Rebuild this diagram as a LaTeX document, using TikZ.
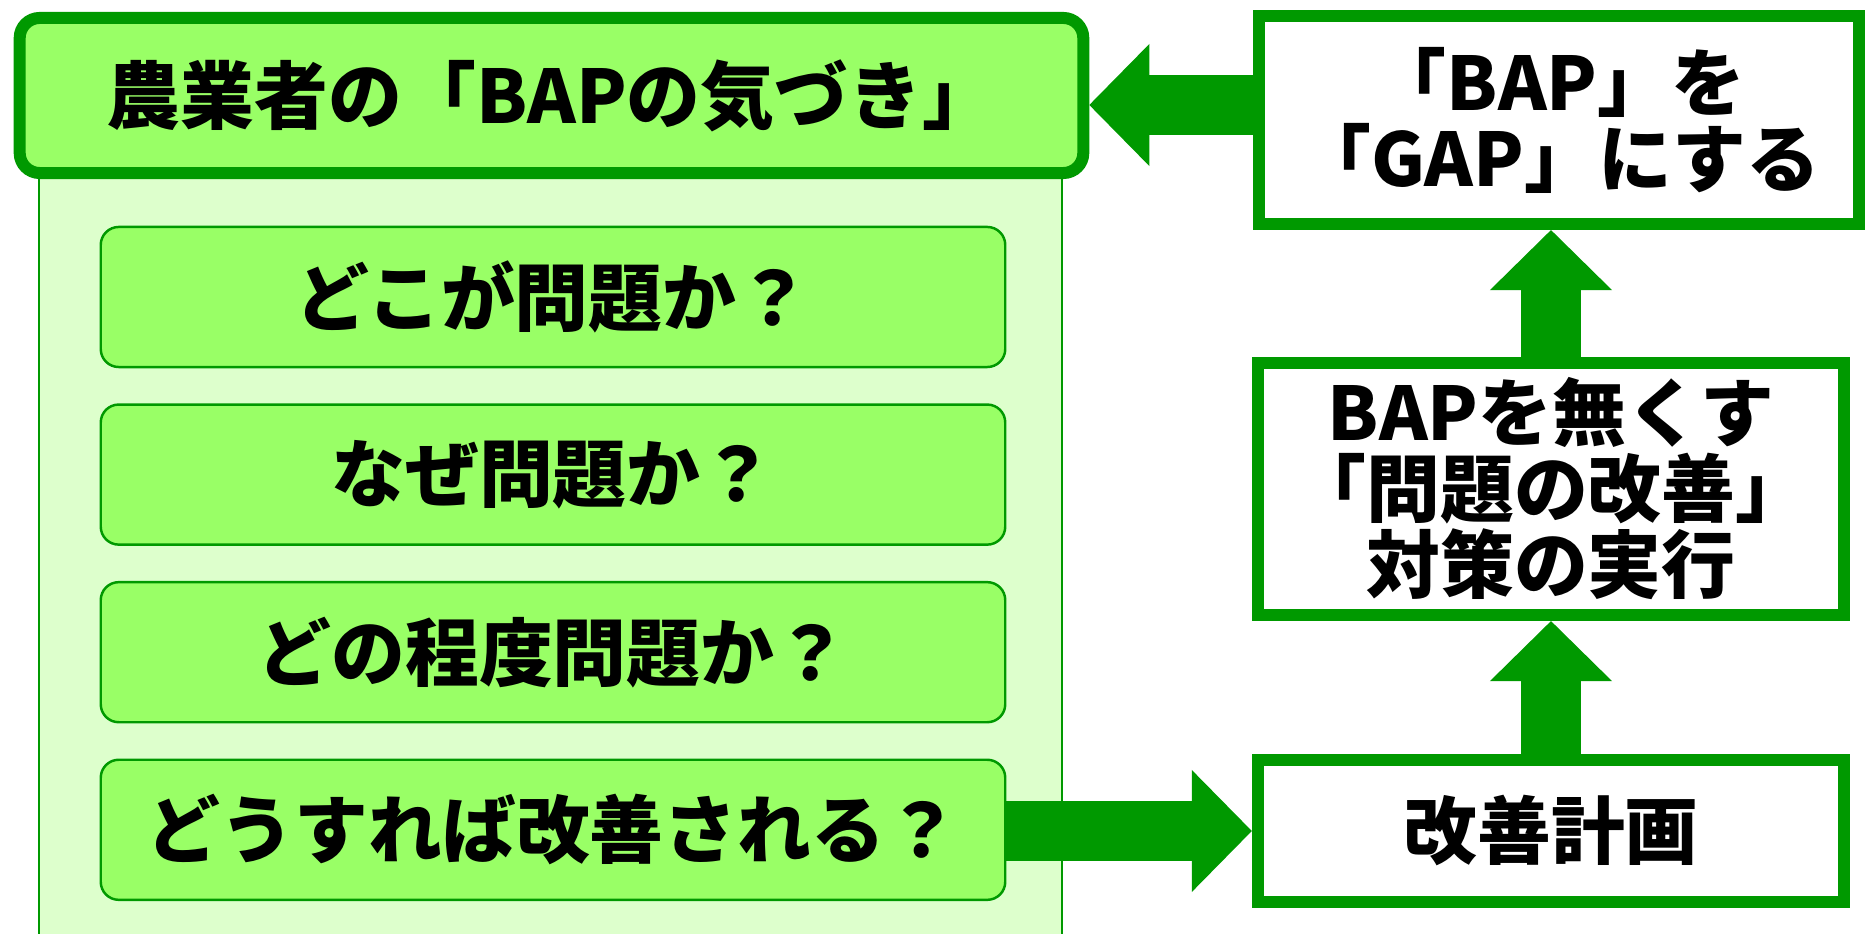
\documentclass[tikz,border=0pt]{standalone}
\usepackage{fontspec}
\newfontfamily\jp{Noto Sans CJK JP}
\usetikzlibrary{arrows.meta}

\definecolor{leafgreen}{HTML}{009900}
\definecolor{lightleaf}{HTML}{99FF66}
\definecolor{paleleaf}{HTML}{DDFFCC}

\tikzset{
    label text/.style={font=\jp\bfseries\fontsize{21}{21.6}\selectfont, inner sep=0pt, align=center},
    titlebox/.style={label text, draw=leafgreen, fill=lightleaf, line width=0.12cm, rounded corners=0.2cm},
    question/.style={label text, draw=leafgreen, fill=lightleaf, line width=0.7pt, rounded corners=0.18cm,
                     minimum width=9.04cm, minimum height=1.40cm},
    stepbox/.style={label text, draw=leafgreen, fill=white, line width=0.12cm},
    bigarrow/.style={draw=leafgreen, line width=0.6cm,
                     -{Triangle[length=0.6cm, width=1.22cm, line width=0pt]}}
}

\begin{document}
\begin{tikzpicture}[x=0.01cm, y=-0.01cm, node distance=1.775cm]
    \path [use as bounding box, clip] (0,0) rectangle (1871,934);

    % Panel behind the questions
    \fill [paleleaf] (39,150) rectangle (1062,940);
    \draw [leafgreen, line width=0.5pt] (39,150) -- (39,940) (1062,150) -- (1062,940);

    % Nodes {title, q1, q2, q3, q4, gap, act, plan}
    \node [titlebox, minimum width=10.63cm, minimum height=1.55cm]
                            (title) at (551.5,95.5) {農業者の「BAPの気づき」};
    \node [question]        (q1)    at (553,297)    {どこが問題か？};
    \node [question]        (q2)    [below of=q1]   {なぜ問題か？};
    \node [question]        (q3)    [below of=q2]   {どの程度問題か？};
    \node [question]        (q4)    [below of=q3]   {どうすれば改善される？};
    \node [stepbox, minimum width=6.00cm, minimum height=2.08cm]
                            (gap)   at (1559,120)   {「BAP」を\\「GAP」にする};
    \node [stepbox, minimum width=5.86cm, minimum height=2.52cm]
                            (act)   at (1551,489)   {BAPを無くす\\「問題の改善」\\対策の実行};
    \node [stepbox, minimum width=5.86cm, minimum height=1.42cm]
                            (plan)  at (1551,831)   {改善計画};

    % Paths
    \path [bigarrow]    (q4.east |- plan.west)  --  (plan.west);
    \path [bigarrow]    (plan.north)            --  (plan.north |- act.south);
    \path [bigarrow]    (act.north)             --  (act.north |- gap.south);
    \path [bigarrow]    (gap.west |- 0,105)     --  (title.east |- 0,105);

\end{tikzpicture}
\end{document}
